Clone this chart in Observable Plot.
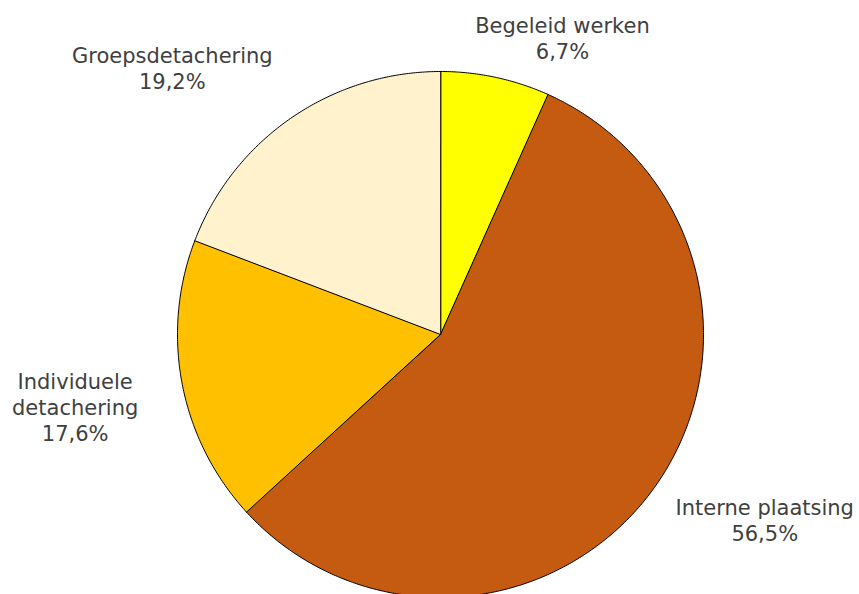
<!DOCTYPE html>
<html>
<head>
<meta charset="utf-8">
<script src="https://cdn.jsdelivr.net/npm/d3@7"></script>
<script src="https://cdn.jsdelivr.net/npm/@observablehq/plot@0.6"></script>
<style>
  html, body { margin: 0; padding: 0; background: #fff; }
  #chart svg { display: block; }
</style>
</head>
<body>
<div id="chart"></div>
<script>
// Data
const categories = ["Begeleid werken", "Interne plaatsing", "Individuele detachering", "Groepsdetachering"];
const values = [6.7, 56.5, 17.6, 19.2];
const labelText = ["Begeleid werken", "Interne plaatsing", "Individuele\ndetachering", "Groepsdetachering"];

// Styles / layout
const colors = ["#FFFF00", "#C55A11", "#FFC000", "#FFF2CC"];
const labelOffsets = [[67, -40], [111, 31], [-107, 23], [-119, -50]];

// Slice geometry from values (clockwise from 12 o'clock)
const total = d3.sum(values);
const pie = d3.pie().sort(null).value(d => d)(values);
const slicePoints = [];
pie.forEach((p, i) => {
  const a0 = p.startAngle, a1 = p.endAngle;
  const n = Math.max(2, Math.ceil((a1 - a0) / (Math.PI / 360)));
  slicePoints.push({cat: categories[i], x: 0, y: 0});
  for (let k = 0; k <= n; k++) {
    const a = a0 + (a1 - a0) * k / n;
    slicePoints.push({cat: categories[i], x: Math.sin(a), y: Math.cos(a)});
  }
});
const labels = pie.map((p, i) => {
  const m = (p.startAngle + p.endAngle) / 2;
  return {
    i,
    x: Math.sin(m),
    y: Math.cos(m),
    text: labelText[i] + "\n" + values[i].toFixed(1).replace(".", ",") + "%"
  };
});

const chart = Plot.plot({
  width: 859,
  height: 594,
  x: {domain: [-1, 1], range: [177, 703], axis: null},
  y: {domain: [-1, 1], range: [597, 71], axis: null},
  color: {domain: categories, range: colors},
  style: {fontFamily: "DejaVu Sans, Verdana, sans-serif", background: "#fff"},
  marks: [
    Plot.line(slicePoints, {
      x: "x", y: "y", z: "cat", fill: "cat",
      stroke: "#000", strokeWidth: 1, curve: "linear-closed", strokeLinejoin: "round"
    }),
    ...labels.map((l, i) => Plot.text([l], {
      x: "x", y: "y", text: "text",
      dx: labelOffsets[i][0], dy: labelOffsets[i][1],
      fontSize: 21, lineHeight: 1.24, fill: "#404040",
      textAnchor: "middle", lineAnchor: "middle"
    }))
  ]
});
document.getElementById("chart").appendChild(chart);
</script>
</body>
</html>
